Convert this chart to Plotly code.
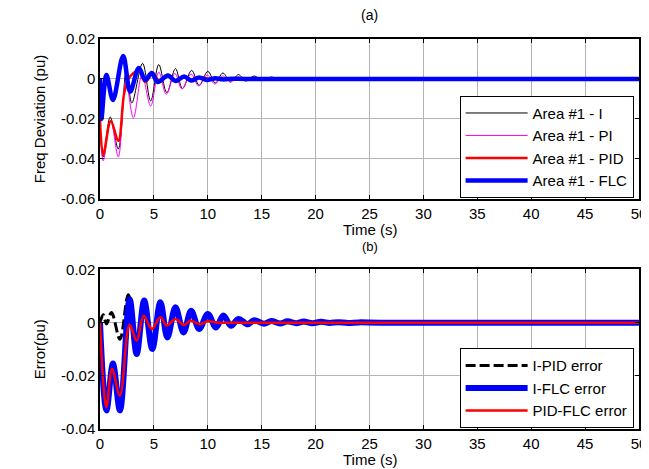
import plotly.graph_objects as go

# ---- (a) frequency deviation, area #1 ----
t_i = [0, 0.3, 0.95, 1.7, 2.45, 2.95, 3.95, 4.7, 5.45, 6.2, 7.0, 7.65, 8.5, 9.2, 10.0,
       10.7, 11.4, 12.1, 12.85, 13.5, 14.3, 15.0, 15.9, 16.6, 17.3, 18.5, 50]
f_i = [-0.02, -0.039, -0.019, -0.035, 0.005, -0.012, 0.0078, -0.011, 0.0072, -0.0068, 0.0052,
       -0.0048, 0.0043, -0.0032, 0.0038, -0.002, 0.003, -0.0015, 0.0022, -0.001, 0.0015,
       -0.0006, 0.001, -0.0003, 0.0004, 0, 0]

t_pi = [0, 0.3, 1.0, 1.7, 2.4, 3.1, 3.9, 4.7, 5.45, 6.15, 6.95, 7.6, 8.45, 9.15, 9.95,
        10.65, 11.4, 12.1, 12.8, 13.5, 14.3, 15.0, 15.8, 16.6, 17.5, 50]
f_pi = [-0.02, -0.041, -0.021, -0.039, -0.001, -0.0195, 0.002, -0.0135, 0.0035, -0.0077,
        0.0028, -0.005, 0.0025, -0.0035, 0.002, -0.0025, 0.0015, -0.0015, 0.001, -0.001,
        0.0006, -0.0005, 0.0003, -0.0002, 0, 0]

t_pid = [0, 0.3, 1.0, 1.7, 2.25, 2.75, 3.6, 4.2, 4.9, 5.5, 6.3, 7.0, 7.8, 8.5, 9.3, 10.2, 11.5, 50]
f_pid = [-0.02, -0.038, -0.021, -0.031, -0.007, 0.001, 0.004, -0.0015, 0.003, -0.001, 0.002,
         -0.0008, 0.0014, -0.0005, 0.0008, 0, 0, 0]

t_flc = [0, 0.12, 0.6, 1.2, 2.15, 2.8, 3.6, 4.2, 4.8, 5.35, 6.3, 7.0, 7.8, 8.45, 9.2, 9.9,
         10.7, 11.4, 12.3, 13.5, 50]
f_flc = [0, -0.02, 0.002, -0.0105, 0.0115, -0.0063, 0.0055, -0.0005, 0.003, -0.0015, 0.0018,
         -0.001, 0.0012, -0.0008, 0.0008, -0.0005, 0.0004, -0.0002, 0.0001, 0, 0]

# ---- (b) errors ----
t_ipid = [0, 0.3, 0.6, 1.07, 1.85, 2.62, 3.4, 4.1, 4.85, 5.6, 6.25, 7.0, 7.75, 8.45, 9.2,
          10.0, 10.75, 11.45, 12.15, 12.85, 13.7, 14.3, 15.2, 15.9, 17, 18.5, 50]
e_ipid = [0, 0.003, -0.0005, 0.0038, -0.0062, 0.0105, -0.0112, 0.0083, -0.0095, 0.0077,
          -0.0056, 0.0058, -0.0037, 0.0045, -0.0024, 0.0033, -0.0018, 0.0027, -0.0012, 0.0014,
          -0.0006, 0.0008, -0.0003, 0.0003, 0, 0, 0]

t_iflc = [0, 0.6, 1.2, 1.85, 2.75, 3.4, 4.1, 4.85, 5.6, 6.25, 7.0, 7.75, 8.45, 9.2, 10.0,
          10.75, 11.45, 12.15, 12.85, 13.7, 14.3, 15.2, 15.9, 16.7, 17.4, 18.2, 18.9, 19.7,
          20.5, 21.3, 22.1, 23, 24, 26, 50]
e_iflc = [0, -0.033, -0.0154, -0.033, 0.0088, -0.0118, 0.0083, -0.0099, 0.0077, -0.0056,
          0.0058, -0.0037, 0.0045, -0.0024, 0.0033, -0.0018, 0.0027, -0.0012, 0.0014, -0.0006,
          0.0009, -0.0004, 0.0006, -0.0003, 0.0005, -0.0002, 0.0004, -0.0002, 0.0003, -0.0001,
          0.0002, -0.0001, 0.0001, 0, 0]

t_pidflc = [0, 0.59, 1.12, 1.84, 2.75, 3.4, 4.05, 4.8, 5.6, 6.2, 7.0, 7.8, 8.4, 9.2, 10.0, 11, 12.5, 50]
e_pidflc = [0, -0.0318, -0.0174, -0.0274, -0.0008, -0.0068, 0.0026, -0.0024, 0.002, -0.0011,
            0.0014, -0.0009, 0.0008, -0.0006, 0.0005, 0, 0, 0]

x_ticks = [0, 5, 10, 15, 20, 25, 30, 35, 40, 45, 50]
ya_ticks = [-0.06, -0.04, -0.02, 0, 0.02]
ya_text = ["-0.06", "-0.04", "-0.02", "0", "0.02"]
yb_ticks = [-0.04, -0.02, 0, 0.02]
yb_text = ["-0.04", "-0.02", "0", "0.02"]

FONT = "Liberation Sans, Arial, sans-serif"

fig = go.Figure()

top = [
    (t_i, f_i, "Area #1 - I", "black", 1, "solid"),
    (t_pi, f_pi, "Area #1 - PI", "#ff00ff", 1, "solid"),
    (t_pid, f_pid, "Area #1 - PID", "#ff0000", 2.5, "solid"),
    (t_flc, f_flc, "Area #1 - FLC", "#0000ff", 4.5, "solid"),
]
for t, v, name, color, w, dash in top:
    fig.add_trace(go.Scatter(
        x=t, y=v, name=name, mode="lines", xaxis="x", yaxis="y", legend="legend",
        line=dict(color=color, width=w, dash=dash, shape="spline", smoothing=1.0)
    ))

bottom = [
    (t_ipid, e_ipid, "I-PID error", "black", 3, "10px,4px"),
    (t_iflc, e_iflc, "I-FLC error", "#0000ff", 6, "solid"),
    (t_pidflc, e_pidflc, "PID-FLC error", "#ff0000", 2.5, "solid"),
]
for t, v, name, color, w, dash in bottom:
    fig.add_trace(go.Scatter(
        x=t, y=v, name=name, mode="lines", xaxis="x2", yaxis="y2", legend="legend2",
        line=dict(color=color, width=w, dash=dash, shape="spline", smoothing=1.0)
    ))

axis_common = dict(
    showline=True, linecolor="black", linewidth=1.5, mirror="ticks",
    ticks="inside", ticklen=4, tickcolor="black", automargin=False,
    showgrid=True, gridcolor="#b4b4b4", gridwidth=1, zeroline=False,
    tickfont=dict(family=FONT, size=15, color="black"),
)

legend_common = dict(
    bgcolor="white", bordercolor="black", borderwidth=1,
    font=dict(family=FONT, size=15, color="black"),
    xanchor="right", yanchor="bottom", x=0.99, itemwidth=62,
)

TOP_DOM = [0.59, 1]
BOT_DOM = [0, 0.409]


def label(text, y, yanchor, yshift, size=15):
    return dict(text=text, x=0.5, y=y, xref="paper", yref="paper", yanchor=yanchor,
                yshift=yshift, showarrow=False, font=dict(family=FONT, size=size))


# page body has an 8px margin, so the figure is drawn 8px smaller
fig.update_layout(
    width=641, height=461,
    margin=dict(l=92, r=9.5, t=31, b=39.5),
    paper_bgcolor="white", plot_bgcolor="white",
    font=dict(family=FONT, size=15, color="black"),
    xaxis=dict(domain=[0, 1], range=[0, 50], tickvals=x_ticks, anchor="y", **axis_common),
    yaxis=dict(domain=TOP_DOM, range=[-0.06, 0.02], tickvals=ya_ticks, ticktext=ya_text,
               anchor="x", title=dict(text="Freq Deviation (pu)", standoff=12, font=dict(size=15)),
               **axis_common),
    xaxis2=dict(domain=[0, 1], range=[0, 50], tickvals=x_ticks, anchor="y2", **axis_common),
    yaxis2=dict(domain=BOT_DOM, range=[-0.04, 0.02], tickvals=yb_ticks, ticktext=yb_text,
                anchor="x2", title=dict(text="Error(pu)", standoff=12, font=dict(size=15)),
                **axis_common),
    legend=dict(y=0.593, **legend_common),
    legend2=dict(y=0.002, **legend_common),
    annotations=[
        label("(a)", TOP_DOM[1], "bottom", 14, 14),
        label("Time (s)", TOP_DOM[0], "top", -20),
        label("(b)", BOT_DOM[1], "bottom", 13, 13),
        label("Time (s)", BOT_DOM[0], "top", -20),
    ],
)

fig.write_html("out.html")
